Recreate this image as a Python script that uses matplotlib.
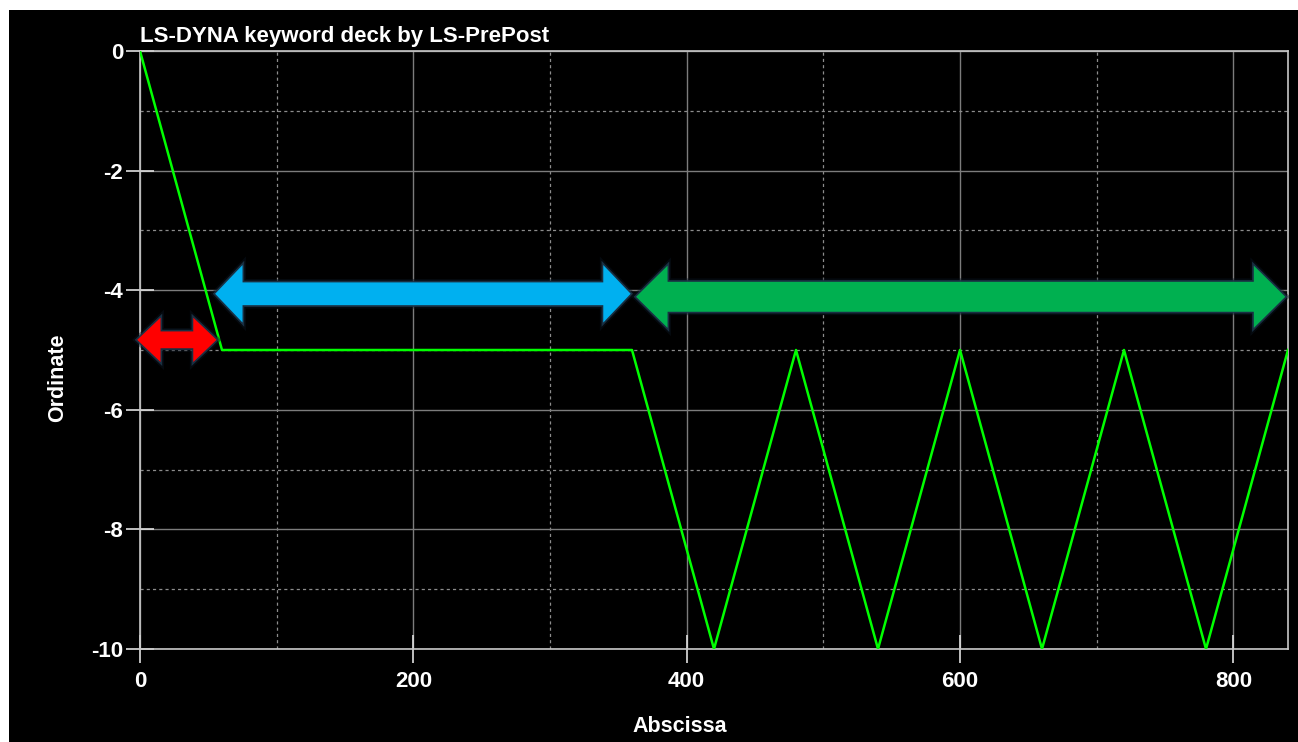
import matplotlib
matplotlib.use("Agg")
import matplotlib.pyplot as plt
import matplotlib.patheffects as pe
from matplotlib.patches import Polygon, Rectangle
from matplotlib.ticker import MultipleLocator

plt.rcParams['font.family'] = ['Liberation Sans', 'DejaVu Sans']
plt.rcParams['axes.unicode_minus'] = False

# load curve
abscissa = [0, 60, 360, 420, 480, 540, 600, 660, 720, 780, 840]
ordinate = [0, -5, -5, -10, -5, -10, -5, -10, -5, -10, -5]

# phase markers (start, end, level)
phase_start = [-2, 55, 363]
phase_end = [56, 359, 838]
phase_level = [-4.83, -4.06, -4.11]
phase_color = ['#ff0000', '#00b0f0', '#00b050']
# shaft half-height, head half-height (y units), head length (x units)
phase_shaft = [0.14, 0.19, 0.25]
phase_head = [0.37, 0.48, 0.52]
phase_head_len = [17, 20, 23]

fig = plt.figure(figsize=(12.98, 7.42), dpi=100)
fig.patch.set_facecolor('white')
fig.patches.append(Rectangle((9 / 1298, 0), 1, 1 - 10 / 742,
                             transform=fig.transFigure, facecolor='black',
                             edgecolor='none', zorder=-10))

ax = fig.add_axes([140 / 1298, 1 - 649 / 742, 1148 / 1298, 598 / 742])
ax.set_facecolor('black')

ax.plot(abscissa, ordinate, color='#00ff00', lw=1.8, zorder=3)

def double_arrow(x0, x1, y, shaft, head, hlen):
    return [(x0, y), (x0 + hlen, y + head), (x0 + hlen, y + shaft),
            (x1 - hlen, y + shaft), (x1 - hlen, y + head), (x1, y),
            (x1 - hlen, y - head), (x1 - hlen, y - shaft),
            (x0 + hlen, y - shaft), (x0 + hlen, y - head)]

for i in range(len(phase_start)):
    verts = double_arrow(phase_start[i], phase_end[i], phase_level[i],
                         phase_shaft[i], phase_head[i], phase_head_len[i])
    arr = Polygon(verts, closed=True, facecolor=phase_color[i],
                  edgecolor='none', zorder=4, clip_on=False)
    arr.set_path_effects([
        pe.Stroke(linewidth=5, foreground='#0a1420', alpha=0.45),
        pe.Stroke(linewidth=2.5, foreground='#1c3448', alpha=0.9),
        pe.Normal()])
    ax.add_patch(arr)

ax.set_xlim(0, 840)
ax.set_ylim(-10, 0)
ax.xaxis.set_major_locator(MultipleLocator(200))
ax.xaxis.set_minor_locator(MultipleLocator(100))
ax.yaxis.set_major_locator(MultipleLocator(2))
ax.yaxis.set_minor_locator(MultipleLocator(1))

ax.grid(which='major', color='#7c7c7c', lw=1.0, ls='-')
ax.grid(which='minor', color='#8c8c8c', lw=0.9, ls=(0, (2.5, 2.5)))
ax.set_axisbelow(True)

for s in ax.spines.values():
    s.set_color('#c8c8c8')
    s.set_linewidth(1.2)

ax.tick_params(which='major', direction='inout', length=20, width=1.2,
               color='#e0e0e0', labelcolor='white', labelsize=16)
ax.tick_params(axis='x', which='major', pad=6)
ax.tick_params(axis='y', which='major', pad=2)
ax.tick_params(which='minor', length=0)
for lab in ax.get_xticklabels() + ax.get_yticklabels():
    lab.set_fontweight('bold')

ax.set_xlabel('Abscissa', color='white', fontsize=15.5, fontweight='bold')
ax.set_ylabel('Ordinate', color='white', fontsize=15.5, fontweight='bold')
ax.xaxis.set_label_coords(0.47, -0.112)
ax.yaxis.set_label_coords(-0.063, 0.453)

ax.text(0.0, 1.015, 'LS-DYNA keyword deck by LS-PrePost', transform=ax.transAxes,
        color='white', fontsize=16, fontweight='bold', ha='left', va='baseline')

fig.savefig('out.png', dpi=100, facecolor=fig.get_facecolor())
